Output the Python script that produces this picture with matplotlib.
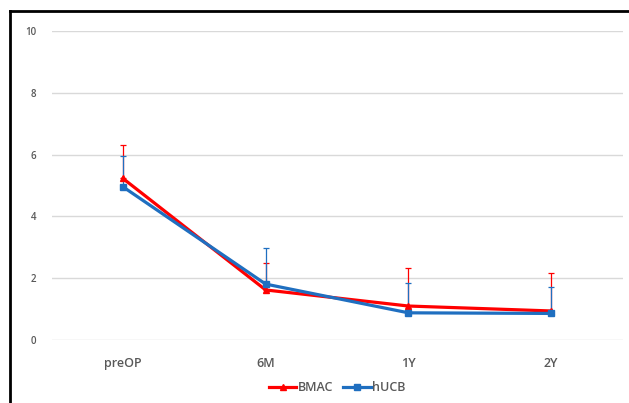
import matplotlib
matplotlib.use("Agg")
from matplotlib import pyplot as plt
from matplotlib.lines import Line2D
import numpy as np

categories = ["preOP", "6M", "1Y", "2Y"]
bmac = [5.23, 1.62, 1.10, 0.94]
bmac_err = [1.07, 0.88, 1.23, 1.24]
hucb = [4.96, 1.81, 0.88, 0.86]
hucb_err = [1.00, 1.16, 0.95, 0.86]

red = "#ff0000"
blue = "#1f6fc0"
gray = "#595959"

plt.rcParams["font.family"] = ["Open Sans", "DejaVu Sans"]
plt.rcParams["font.weight"] = "semibold"

fig = plt.figure(figsize=(6.29, 4.03), dpi=100)
ax = fig.add_axes([0.0819, 0.1563, 0.9078, 0.7667])

x = np.arange(len(categories))

# error bars (upper only)
ax.errorbar(x, bmac, yerr=[np.zeros(4), bmac_err], fmt="none", ecolor=red,
            elinewidth=0.9, capsize=2.5, capthick=0.9, zorder=2)
ax.errorbar(x, hucb, yerr=[np.zeros(4), hucb_err], fmt="none", ecolor=blue,
            elinewidth=0.9, capsize=2.5, capthick=0.9, zorder=2)

ax.plot(x, bmac, color=red, lw=2.3, marker="^", ms=5, label="BMAC", zorder=3)
ax.plot(x, hucb, color=blue, lw=2.3, marker="s", ms=4.5, label="hUCB", zorder=4)

ax.set_xlim(-0.5, 3.5)
ax.set_ylim(0, 10)
ax.set_yticks([0, 2, 4, 6, 8, 10])
ax.set_xticks(x)
ax.set_xticklabels(categories)
ax.yaxis.grid(True, color="#d9d9d9", lw=1)
ax.set_axisbelow(True)
for s in ax.spines.values():
    s.set_visible(False)
ax.tick_params(axis="y", length=0, pad=11, labelsize=7, labelcolor=gray)
ax.tick_params(axis="x", length=0, pad=12, labelsize=9, labelcolor=gray)

ax.legend(loc="center", bbox_to_anchor=(0.5, -0.155), ncol=2, frameon=False,
          fontsize=9, labelcolor=gray, handlelength=2.2, handletextpad=0.1,
          columnspacing=0.8, borderaxespad=0)

# black frame on the top and left edge
fig.add_artist(Line2D([0.016, 0.016], [0, 0.973], color="black", lw=2,
                      transform=fig.transFigure))
fig.add_artist(Line2D([0.016, 1.0], [0.973, 0.973], color="black", lw=2,
                      transform=fig.transFigure))

fig.savefig("out.png", dpi=100)
